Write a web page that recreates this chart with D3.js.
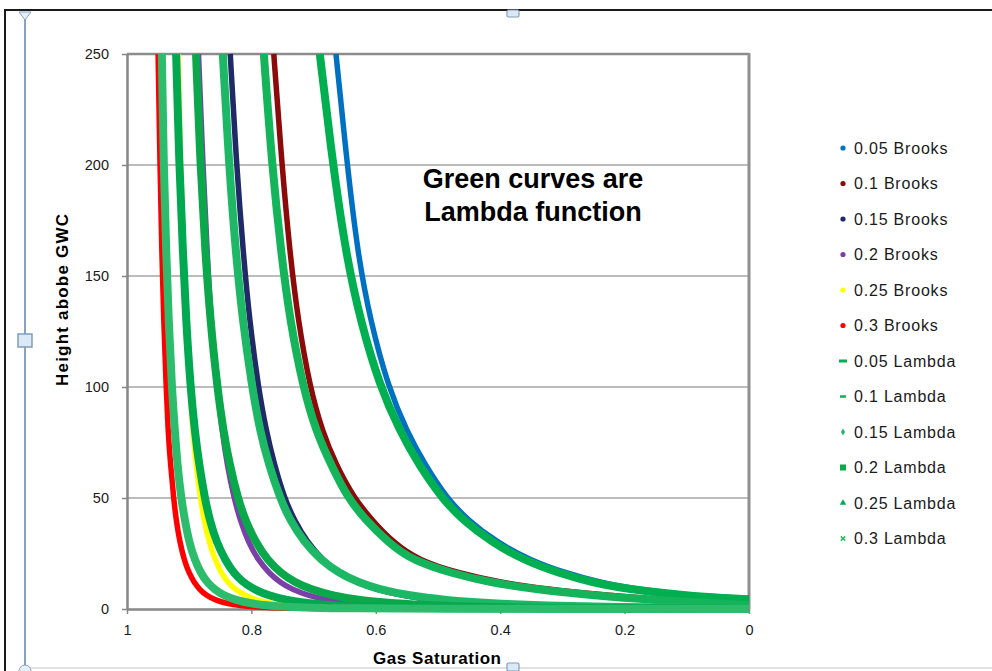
<!DOCTYPE html>
<html>
<head>
<meta charset="utf-8">
<script src="https://cdn.jsdelivr.net/npm/d3@7"></script>
<style>
  html, body { margin: 0; padding: 0; background: #fff; overflow: hidden; }
  svg { display: block; }
</style>
</head>
<body>
<div class="graph-div"></div>
<script>
var outerWidth = 992;
var outerHeight = 671;
var margin = {left: 127, top: 54, right: 243, bottom: 62};
var innerWidth = outerWidth - margin.left - margin.right;
var innerHeight = outerHeight - margin.top - margin.bottom;
var fontFamily = "'Liberation Sans', Arial, sans-serif";

// tick values
const xTickValues = [1, 0.8, 0.6, 0.4, 0.2, 0];
const yTickValues = [0, 50, 100, 150, 200, 250];

// series: [gas saturation, height above GWC]
const brooks005 = [[0.664,250],[0.646,200],[0.629,160],[0.609,130],[0.580,100],[0.550,80],[0.521,65],[0.486,50],[0.452,40],[0.405,30],[0.352,22],[0.293,16],[0.240,12],[0.183,9],[0.095,6],[0,4.8]];
const brooks01  = [[0.764,250],[0.751,200],[0.738,160],[0.725,130],[0.706,100],[0.686,80],[0.664,65],[0.635,50],[0.606,40],[0.572,30],[0.532,22],[0.465,16],[0.400,12],[0.328,9],[0.223,6],[0.127,4],[0.031,2.5],[0,2.1]];
const brooks015 = [[0.834,250],[0.824,200],[0.813,160],[0.803,130],[0.789,100],[0.776,80],[0.763,65],[0.747,50],[0.731,40],[0.710,30],[0.685,22],[0.658,16],[0.631,12],[0.602,9],[0.557,6],[0.508,4],[0.443,2.5],[0.363,1.5],[0.291,1],[0.189,0.6],[0.027,0.3],[0,0.25]];
const brooks02  = [[0.885,250],[0.878,200],[0.871,160],[0.865,130],[0.855,100],[0.847,80],[0.839,65],[0.828,50],[0.818,40],[0.805,30],[0.789,22],[0.771,16],[0.754,12],[0.736,9],[0.708,6],[0.677,4],[0.636,2.5],[0.587,1.5],[0.543,1],[0.480,0.6],[0.382,0.3],[0.2,0.15],[0,0.08]];
const brooks025 = [[0.918,250],[0.914,200],[0.909,160],[0.905,130],[0.899,100],[0.894,80],[0.889,65],[0.882,50],[0.876,40],[0.868,30],[0.858,22],[0.848,16],[0.838,12],[0.827,9],[0.810,6],[0.792,4],[0.769,2.5],[0.741,1.5],[0.716,1],[0.681,0.6],[0.628,0.3],[0.45,0.15],[0.2,0.08],[0,0.05]];
const brooks03  = [[0.950,250],[0.947,200],[0.944,160],[0.941,130],[0.937,100],[0.934,80],[0.930,65],[0.925,50],[0.921,40],[0.915,30],[0.908,22],[0.900,16],[0.892,12],[0.884,9],[0.872,6],[0.858,4],[0.840,2.5],[0.817,1.5],[0.798,1],[0.770,0.6],[0.725,0.3],[0.6,0.15],[0.3,0.08],[0,0.05]];

const lambda005 = [[0.690,250],[0.669,200],[0.648,160],[0.625,130],[0.593,100],[0.561,80],[0.531,65],[0.494,50],[0.460,40],[0.413,30],[0.362,22],[0.304,16],[0.252,12],[0.196,9],[0.104,6],[0,4.3]];
const lambda01  = [[0.780,250],[0.767,200],[0.752,160],[0.738,130],[0.717,100],[0.696,80],[0.672,65],[0.645,50],[0.616,40],[0.580,30],[0.542,22],[0.477,16],[0.416,12],[0.347,9],[0.248,6],[0.151,4],[0.050,2.5],[0,1.8]];
const lambda015 = [[0.846,250],[0.836,200],[0.825,160],[0.814,130],[0.799,100],[0.786,80],[0.772,65],[0.754,50],[0.738,40],[0.715,30],[0.688,22],[0.658,16],[0.628,12],[0.596,9],[0.546,6],[0.489,4],[0.415,2.5],[0.321,1.5],[0.236,1],[0.114,0.6],[0,0.4]];
const lambda02  = [[0.889,250],[0.882,200],[0.874,160],[0.866,130],[0.855,100],[0.845,80],[0.835,65],[0.822,50],[0.810,40],[0.793,30],[0.774,22],[0.752,16],[0.730,12],[0.706,9],[0.669,6],[0.627,4],[0.572,2.5],[0.503,1.5],[0.440,1],[0.350,0.6],[0.204,0.3],[0,0.12]];
const lambda025 = [[0.921,250],[0.916,200],[0.910,160],[0.905,130],[0.898,100],[0.891,80],[0.884,65],[0.875,50],[0.867,40],[0.856,30],[0.842,22],[0.828,16],[0.813,12],[0.797,9],[0.772,6],[0.744,4],[0.708,2.5],[0.662,1.5],[0.621,1],[0.562,0.6],[0.467,0.3],[0.3,0.15],[0.12,0.08],[0,0.05]];
const lambda03  = [[0.944,250],[0.941,200],[0.937,160],[0.933,130],[0.928,100],[0.923,80],[0.919,65],[0.913,50],[0.907,40],[0.900,30],[0.891,22],[0.881,16],[0.871,12],[0.860,9],[0.844,6],[0.825,4],[0.801,2.5],[0.771,1.5],[0.744,1],[0.706,0.6],[0.644,0.3],[0.5,0.15],[0.25,0.08],[0,0.05]];

const seriesNames = ["0.05 Brooks","0.1 Brooks","0.15 Brooks","0.2 Brooks","0.25 Brooks","0.3 Brooks",
                     "0.05 Lambda","0.1 Lambda","0.15 Lambda","0.2 Lambda","0.25 Lambda","0.3 Lambda"];
const seriesData = [brooks005, brooks01, brooks015, brooks02, brooks025, brooks03,
                    lambda005, lambda01, lambda015, lambda02, lambda025, lambda03];
const seriesColors = ["#0070c0","#8b0a0a","#1f2a66","#7a3fa8","#ffff00","#ff0000",
                      "#00b050","#14b45a","#1db866","#0aa84a","#00a850","#2cbc6c"];
const legendShapes = ["circle","circle","circle","circle","circle","circle",
                      "dash","dash2","diamond","square","triangle","cross"];

var svg = d3.select(".graph-div").append("svg")
  .attr("width", outerWidth)
  .attr("height", outerHeight);

// window / selection chrome around the chart
svg.append("line").attr("x1", 4).attr("x2", 992).attr("y1", 10).attr("y2", 10)
  .attr("stroke", "#1a1a1a").attr("stroke-width", 2);
svg.append("line").attr("x1", 5).attr("x2", 5).attr("y1", 10).attr("y2", 671)
  .attr("stroke", "#1a1a1a").attr("stroke-width", 2);
svg.append("line").attr("x1", 25).attr("x2", 992).attr("y1", 668).attr("y2", 668)
  .attr("stroke", "#d8d8d8").attr("stroke-width", 1.5);
svg.append("line").attr("x1", 25).attr("x2", 25).attr("y1", 13).attr("y2", 671)
  .attr("stroke", "#8aa2bd").attr("stroke-width", 2);
svg.append("path").attr("d", "M19,12 L31,12 L25,20 Z")
  .attr("fill", "#e6eef7").attr("stroke", "#8aa2bd");
svg.append("rect").attr("x", 18).attr("y", 334).attr("width", 14).attr("height", 13)
  .attr("fill", "#dbe8f5").attr("stroke", "#7f9db9").attr("stroke-width", 1.5);
svg.append("rect").attr("x", 507).attr("y", 10).attr("width", 12).attr("height", 7).attr("rx", 1.5)
  .attr("fill", "#dbe8f5").attr("stroke", "#7f9db9").attr("stroke-width", 1.2);
svg.append("rect").attr("x", 507).attr("y", 663).attr("width", 12).attr("height", 8).attr("rx", 1.5)
  .attr("fill", "#dbe8f5").attr("stroke", "#7f9db9").attr("stroke-width", 1.2);
svg.append("circle").attr("cx", 25).attr("cy", 671).attr("r", 6)
  .attr("fill", "#e6eef7").attr("stroke", "#8aa2bd");

var g = svg.append("g")
  .attr("transform", "translate(" + margin.left + "," + margin.top + ")");

var xScale = d3.scaleLinear().domain([1, 0]).range([0, innerWidth]);
var yScale = d3.scaleLinear().domain([0, 250]).range([innerHeight, 0]);

// gridlines
g.append("g")
  .selectAll("line")
  .data(yTickValues.filter(function(d) { return d > 0; }))
  .enter().append("line")
  .attr("x1", 0).attr("x2", innerWidth)
  .attr("y1", function(d) { return yScale(d); })
  .attr("y2", function(d) { return yScale(d); })
  .attr("stroke", function(d) { return d === 250 ? "#8c8c8c" : "#a6a6a6"; })
  .attr("stroke-width", function(d) { return d === 250 ? 2.5 : 1.5; });

// right border of plot area
g.append("line")
  .attr("x1", innerWidth).attr("x2", innerWidth)
  .attr("y1", -1).attr("y2", innerHeight)
  .attr("stroke", "#909090").attr("stroke-width", 3);

const xAxis = d3.axisBottom(xScale)
  .tickValues(xTickValues)
  .tickFormat(d3.format("~g"))
  .tickSizeInner(5).tickSizeOuter(0)
  .tickPadding(11);
const yAxis = d3.axisLeft(yScale)
  .tickValues(yTickValues)
  .tickSizeInner(5).tickSizeOuter(0)
  .tickPadding(13);

const xAxisG = g.append("g").attr("transform", "translate(0," + innerHeight + ")").call(xAxis);
const yAxisG = g.append("g").call(yAxis);

[xAxisG, yAxisG].forEach(function(a) {
  a.attr("font-family", fontFamily).attr("font-size", 14.5);
  a.select(".domain").attr("stroke", "#868686").attr("stroke-width", 2.5);
  a.selectAll(".tick line").attr("stroke", "#868686").attr("stroke-width", 1.5);
  a.selectAll(".tick text").attr("fill", "#1a1a1a");
});

// curves
var line = d3.line()
  .x(function(d) { return xScale(d[0]); })
  .y(function(d) { return yScale(d[1]); })
  .curve(d3.curveBasis);

g.append("g")
  .selectAll("path")
  .data(seriesData)
  .enter().append("path")
  .attr("d", function(d) { return line(d); })
  .attr("fill", "none")
  .attr("stroke", function(d, i) { return seriesColors[i]; })
  .attr("stroke-width", function(d, i) { return i < 6 ? 5.5 : 8; })
  .attr("stroke-linejoin", "round");

// annotation
var note = g.append("text")
  .attr("text-anchor", "middle")
  .attr("fill", "#000")
  .attr("font-family", fontFamily)
  .attr("font-size", 27).attr("font-weight", "bold");
note.append("tspan").attr("x", 406).attr("y", 134).text("Green curves are");
note.append("tspan").attr("x", 406).attr("y", 167).text("Lambda function");

// axis titles
svg.append("text")
  .attr("transform", "translate(68,300) rotate(-90)")
  .attr("text-anchor", "middle")
  .attr("textLength", 172).attr("lengthAdjust", "spacing")
  .attr("font-family", fontFamily)
  .attr("font-size", 17).attr("font-weight", "bold")
  .attr("fill", "#000")
  .text("Height abobe GWC");

svg.append("text")
  .attr("x", 437).attr("y", 664)
  .attr("text-anchor", "middle")
  .attr("textLength", 128).attr("lengthAdjust", "spacing")
  .attr("font-family", fontFamily)
  .attr("font-size", 17).attr("font-weight", "bold")
  .attr("fill", "#000")
  .text("Gas Saturation");

// legend
var legend = svg.append("g").attr("transform", "translate(843,148)");
var rows = legend.selectAll("g")
  .data(seriesNames)
  .enter().append("g")
  .attr("transform", function(d, i) { return "translate(0," + (i * 35.5) + ")"; });

rows.each(function(d, i) {
  var row = d3.select(this);
  var c = seriesColors[i];
  var s = legendShapes[i];
  if (s === "circle") row.append("circle").attr("r", 2.6).attr("fill", c);
  else if (s === "dash") row.append("rect").attr("x", -4).attr("y", -1.5).attr("width", 8).attr("height", 3).attr("fill", c);
  else if (s === "dash2") row.append("rect").attr("x", -3).attr("y", -1.3).attr("width", 6).attr("height", 2.6).attr("fill", c);
  else if (s === "diamond") row.append("path").attr("d", d3.symbol(d3.symbolDiamond, 14)()).attr("fill", c);
  else if (s === "square") row.append("rect").attr("x", -3).attr("y", -3).attr("width", 6).attr("height", 6).attr("fill", c);
  else if (s === "triangle") row.append("path").attr("d", d3.symbol(d3.symbolTriangle, 18)()).attr("fill", c);
  else row.append("path").attr("d", d3.symbol(d3.symbolX, 14)()).attr("stroke", c).attr("stroke-width", 1.6).attr("fill", "none");
  row.append("text")
    .attr("x", 11).attr("y", 5.5)
    .attr("fill", "#1a1a1a")
    .attr("font-family", fontFamily)
    .attr("font-size", 16)
    .attr("letter-spacing", "0.8px")
    .text(d);
});
</script>
</body>
</html>
